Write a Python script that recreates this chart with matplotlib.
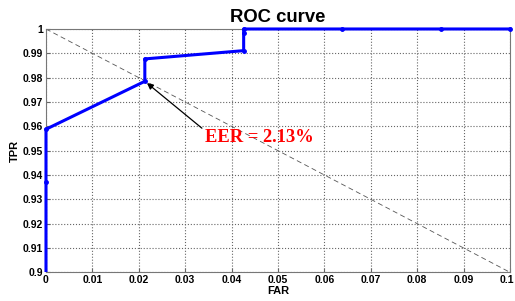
import matplotlib
matplotlib.use("Agg")
import matplotlib.pyplot as plt
import matplotlib.transforms as mtransforms
from matplotlib.patches import Rectangle

far = [0.0, 0.0, 0.0, 0.0213, 0.0213, 0.0426, 0.0426, 0.0426, 0.0638, 0.0851, 0.1]
tpr = [0.80, 0.937, 0.9588, 0.9785, 0.9877, 0.9911, 0.9985, 1.0, 1.0, 1.0, 1.0]
diag_x = [0.0, 0.1]
diag_y = [1.0, 0.9]
eer_x, eer_y = 0.0213, 0.9785
eer_label = "EER = 2.13%"
xticks = [0, 0.01, 0.02, 0.03, 0.04, 0.05, 0.06, 0.07, 0.08, 0.09, 0.1]
xticklabels = ["0", "0.01", "0.02", "0.03", "0.04", "0.05", "0.06", "0.07", "0.08", "0.09", "0.1"]
yticks = [0.9, 0.91, 0.92, 0.93, 0.94, 0.95, 0.96, 0.97, 0.98, 0.99, 1.0]
yticklabels = ["0.9", "0.91", "0.92", "0.93", "0.94", "0.95", "0.96", "0.97", "0.98", "0.99", "1"]

plt.rcParams['font.family'] = ['Liberation Sans', 'DejaVu Sans']
fig = plt.figure(figsize=(5.15, 3.01), dpi=100)
ax = fig.add_axes([0.0893, 0.0953, 0.9010, 0.8084])

ax.plot(diag_x, diag_y, color='#555555', lw=0.6, ls=(0, (6, 4)), zorder=2)
roc, = ax.plot(far, tpr, color='#0000ff', lw=2.2, marker='.', markersize=5, zorder=3)
clip = Rectangle((-0.02, 0.0), 1.04, 1.03, transform=ax.transAxes, fill=False, visible=False)
ax.add_patch(clip)
roc.set_clip_path(clip)

ax.set_xlim(0, 0.1)
ax.set_ylim(0.9, 1.0)
ax.set_xticks(xticks)
ax.set_xticklabels(xticklabels)
ax.set_yticks(yticks)
ax.set_yticklabels(yticklabels)
ax.grid(True, color='#666666', ls=':', lw=0.8)
ax.tick_params(direction='in', length=3, labelsize=7.5, color='#666666', pad=2)
for lab in ax.get_xticklabels() + ax.get_yticklabels():
    lab.set_fontweight('bold')
last = ax.get_xticklabels()[-1]
last.set_transform(last.get_transform() + mtransforms.ScaledTranslation(-3.5 / 100, 0, fig.dpi_scale_trans))
for s in ax.spines.values():
    s.set_color('#777777')
    s.set_linewidth(0.8)

ax.set_title("ROC curve", fontsize=13.3, fontweight='bold', pad=5)
ax.set_xlabel("FAR", fontsize=8, fontweight='bold', labelpad=1)
ax.set_ylabel("TPR", fontsize=8, fontweight='bold', labelpad=2)

ax.annotate(eer_label, xy=(eer_x, eer_y), xytext=(0.0342, 0.9555),
            fontsize=13.3, color='red', family=['Liberation Serif'], fontweight='bold',
            ha='left', va='center',
            arrowprops=dict(arrowstyle='-|>', color='black', lw=0.9, mutation_scale=9,
                            shrinkA=0, shrinkB=2, relpos=(0.0, 0.9)))

fig.savefig("out.png", dpi=100)
